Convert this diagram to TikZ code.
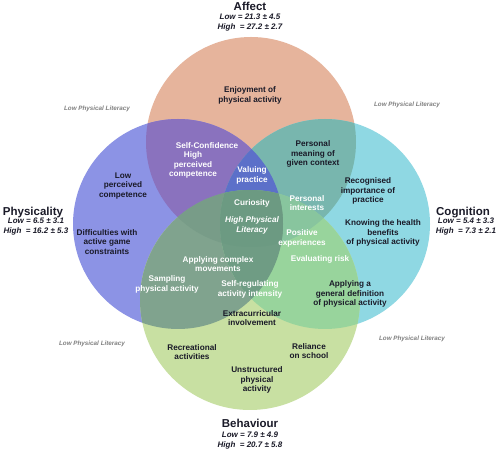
\documentclass[tikz,border=0pt]{standalone}
\usepackage{fontspec}
\setmainfont{Liberation Sans}
\usepackage{xcolor}
\usepackage{tikz}

\definecolor{affA}{HTML}{E6B49C}
\definecolor{phyP}{HTML}{8C93E5}
\definecolor{cogC}{HTML}{8FD8E3}
\definecolor{behB}{HTML}{C8E0A2}
\definecolor{mixAP}{HTML}{8A72BE}
\definecolor{mixAC}{HTML}{78B6AE}
\definecolor{mixPB}{HTML}{80A38E}
\definecolor{mixCB}{HTML}{98D49C}
\definecolor{mixAPC}{HTML}{5C70C9}
\definecolor{mixAPB}{HTML}{789C88}
\definecolor{mixACB}{HTML}{88C59E}
\definecolor{mixPCB}{HTML}{6F9C84}
\definecolor{mixAll}{HTML}{6C9A82}
\definecolor{ink}{HTML}{1A1A28}

\tikzset{
  lbl/.style={font=\bfseries\fontsize{8.2}{9.8}\selectfont, align=center, text=ink, inner sep=0pt},
  wlbl/.style={lbl, text=white},
  ttl/.style={font=\bfseries\fontsize{11.5}{13}\selectfont, text=ink, inner sep=0pt},
  stat/.style={font=\bfseries\itshape\fontsize{8}{10.5}\selectfont, align=center, text=ink, inner sep=0pt},
  lowpl/.style={font=\bfseries\itshape\fontsize{6.3}{8}\selectfont, text=gray, inner sep=0pt}
}

\begin{document}
\begin{tikzpicture}[x=1pt,y=1pt]
\useasboundingbox[fill=white] (0,0) rectangle (500,452);
\def\affcircle{(251,310) circle (105pt)}
  \def\phycircle{(178,228) circle (105pt)}
  \def\cogcircle{(325,228) circle (105pt)}
  \def\behcircle{(250,152) circle (110pt)}
      \fill[affA] \affcircle;
      \fill[phyP] \phycircle;
      \fill[cogC] \cogcircle;
      \fill[behB] \behcircle;
      % two sets
      \begin{scope}
    \clip \affcircle;
    \fill[mixAP] \phycircle;
    \fill[mixAC] \cogcircle;
      \end{scope}
      \begin{scope}
    \clip \behcircle;
    \fill[mixPB] \phycircle;
    \fill[mixCB] \cogcircle;
      \end{scope}
      % three sets
      \begin{scope}
    \clip \affcircle; \clip \phycircle;
    \fill[mixAPC] \cogcircle;
    \fill[mixAPB] \behcircle;
      \end{scope}
      \begin{scope}
    \clip \behcircle; \clip \cogcircle;
    \fill[mixACB] \affcircle;
    \fill[mixPCB] \phycircle;
      \end{scope}
      % all four
      \begin{scope}
    \clip \affcircle; \clip \phycircle; \clip \cogcircle;
    \fill[mixAll] \behcircle;
      \end{scope}

      % titles
      \node[ttl] (affT) at (250,446) {Affect};
      \node[stat] (affS) at (250,429.5) {Low = 21.3 ± 4.5\\High~ = 27.2 ± 2.7};
      \node[ttl] (phyT) at (33,239) {Physicality};
      \node[stat] (phyS) at (36,225.5) {Low = 6.5 ± 3.1\\High~ = 16.2 ± 5.3};
      \node[ttl] (cogT) at (463,239) {Cognition};
      \node[stat] (cogS) at (466,225.5) {Low = 5.4 ± 3.3\\High~ = 7.3 ± 2.1};
      \node[ttl] (behT) at (250,29) {Behaviour};
      \node[stat] (behS) at (250,11.5) {Low = 7.9 ± 4.9\\High~ = 20.7 ± 5.8};

      \node[lowpl] (lowNW) at (97,343) {Low Physical Literacy};
      \node[lowpl] (lowNE) at (407,347) {Low Physical Literacy};
      \node[lowpl] (lowSW) at (92,108) {Low Physical Literacy};
      \node[lowpl] (lowSE) at (412,113) {Low Physical Literacy};

      % region labels
      \node[lbl] (enjoy) at (250,357) {Enjoyment of\\physical activity};
      \node[wlbl] (selfconf) at (207,306) {Self-Confidence};
      \node[wlbl] (highpc) at (193,287) {High\\perceived\\competence};
      \node[wlbl] (valuing) at (252,277) {Valuing\\practice};
      \node[lbl] (meaning) at (313,298) {Personal\\meaning of\\given context};
      \node[wlbl] (curiosity) at (252,249) {Curiosity};
      \node[wlbl, font=\bfseries\itshape\fontsize{8.2}{9.8}\selectfont] (hpl) at (252,227) {High Physical\\Literacy};
      \node[wlbl] (interests) at (307,249) {Personal\\interests};
      \node[wlbl] (positive) at (302,214) {Positive\\experiences};
      \node[wlbl] (risk) at (320,193) {Evaluating risk};
      \node[wlbl] (complex) at (218,188) {Applying complex\\movements};
      \node[wlbl] (sampling) at (167,168) {Sampling\\physical activity};
      \node[wlbl] (selfreg) at (250,163) {Self-regulating\\activity intensity};
      \node[lbl] (general) at (350,158) {Applying a\\general definition\\of physical activity};
      \node[lbl] (extra) at (252,134) {Extracurricular\\involvement};
      \node[lbl] (lowpc) at (123,266) {Low\\perceived\\competence};
      \node[lbl] (difficult) at (107,210) {Difficulties with\\active game\\constraints};
      \node[lbl] (recognised) at (368,261) {Recognised\\importance of\\practice};
      \node[lbl] (knowing) at (383,219) {Knowing the health\\benefits\\of physical activity};
      \node[lbl] (recreational) at (192,100) {Recreational\\activities};
      \node[lbl] (reliance) at (309,101) {Reliance\\on school};
      \node[lbl] (unstructured) at (257,72) {Unstructured\\physical\\activity};
\end{tikzpicture}
\end{document}
